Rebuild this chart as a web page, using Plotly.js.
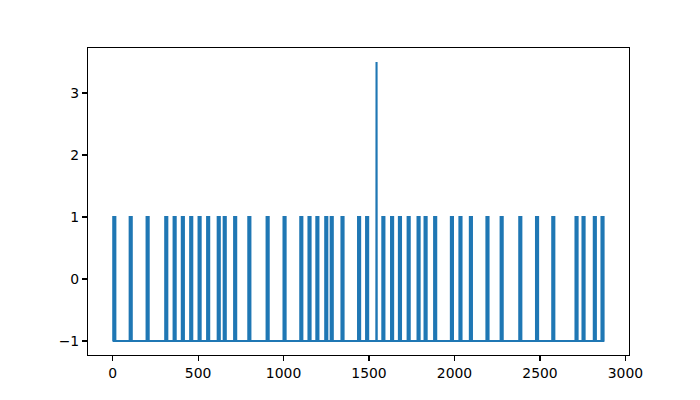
<!DOCTYPE html>
<html>
<head>
<meta charset="utf-8">
<script src="https://cdn.plot.ly/plotly-3.0.1.min.js"></script>
<style>html,body{margin:0;padding:0;background:#fff;}#chart{width:700px;height:400px;}</style>
</head>
<body>
<div id="chart"></div>
<script>
// Baseline level and extent of the signal (sample index)
const baseline = -1;
const xFirst = 0;
const xLast = 2877;
// Pulses to level 1: start and end sample index
const pulseStart = [4, 100, 199, 308, 357, 405, 454, 503, 553, 615, 650, 711, 794, 901, 1000, 1098, 1146, 1192, 1244, 1276, 1339, 1436, 1483, 1578, 1629, 1675, 1726, 1784, 1825, 1881, 1979, 2029, 2090, 2187, 2270, 2379, 2477, 2572, 2708, 2749, 2815, 2860];
const pulseEnd   = [16, 112, 211, 320, 369, 417, 466, 515, 565, 627, 662, 723, 806, 913, 1012, 1110, 1158, 1204, 1256, 1288, 1351, 1448, 1495, 1590, 1641, 1687, 1738, 1796, 1837, 1893, 1991, 2041, 2102, 2199, 2282, 2391, 2489, 2584, 2720, 2761, 2827, 2872];
const pulseLevel = 1;
// Single tall spike
const spikeX = 1544;
const spikeLevel = 3.5;

// Build the line vertices from the pulse table
const events = pulseStart.map((s, i) => ({s: s, e: pulseEnd[i], v: pulseLevel}));
events.push({s: spikeX - 1, e: spikeX + 1, v: spikeLevel, spike: true});
events.sort((a, b) => a.s - b.s);
const xs = [xFirst], ys = [baseline];
events.forEach(ev => {
  if (ev.spike) {
    xs.push(ev.s, spikeX, ev.e); ys.push(baseline, ev.v, baseline);
  } else {
    xs.push(ev.s, ev.s, ev.e, ev.e); ys.push(baseline, ev.v, ev.v, baseline);
  }
});
xs.push(xLast); ys.push(baseline);

const xMin = -143.85, xMax = 3020.85;
const yMin = -1.225, yMax = 3.725;
const xTicks = [0, 500, 1000, 1500, 2000, 2500, 3000];
const yTicks = [-1, 0, 1, 2, 3];

const axisCommon = {
  showgrid: false, zeroline: false, showline: true, mirror: true,
  linecolor: '#000', linewidth: 1.1, ticks: 'outside', ticklen: 5, tickwidth: 1.1,
  tickcolor: '#000', tickfont: {family: 'DejaVu Sans', size: 13.9, color: '#000'}
};

Plotly.newPlot('chart', [{
  x: xs, y: ys, type: 'scatter', mode: 'lines',
  line: {color: '#1f77b4', width: 2.1}, hoverinfo: 'skip'
}], {
  width: 700, height: 400,
  margin: {l: 88, r: 71, t: 48, b: 45},
  paper_bgcolor: '#fff', plot_bgcolor: '#fff',
  showlegend: false,
  xaxis: Object.assign({}, axisCommon, {range: [xMin, xMax], tickmode: 'array', tickvals: xTicks, ticktext: xTicks.map(String)}),
  yaxis: Object.assign({}, axisCommon, {range: [yMin, yMax], tickmode: 'array', tickvals: yTicks, ticktext: yTicks.map(v => v < 0 ? '\u2212' + Math.abs(v) : String(v))})
}, {staticPlot: true});
</script>
</body>
</html>
